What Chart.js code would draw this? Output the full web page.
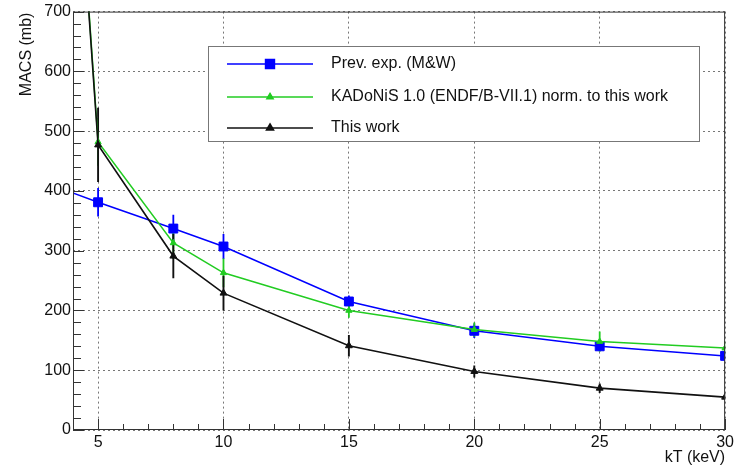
<!DOCTYPE html>
<html>
<head>
<meta charset="utf-8">
<script src="https://cdn.jsdelivr.net/npm/chart.js@4.4.0/dist/chart.umd.min.js"></script>
<style>
  html, body { margin: 0; padding: 0; background: #fff; }
  canvas { display: block; }
</style>
</head>
<body>
<canvas id="chart" width="737" height="465"></canvas>
<script>
// kT (keV); first point sits left of the visible range, only its line shows
const kT = [3, 5, 8, 10, 15, 20, 25, 30];

const prevExp = [412, 381, 337, 307, 215, 166, 140, 124];
const prevExpErr = [25, 24, 23, 21, 10, 12, 8, 6];

const kadonis = [1690, 482, 313, 263, 200, 168, 148, 137];
const kadonisErr = [40, 40, 27, 24, 12, 12, 17, 12];

const thisWork = [1680, 477, 291, 229, 141, 98, 70, 55];
const thisWorkErr = [60, 62, 37, 29, 18, 10, 8, 5];

const xTicks = [5, 10, 15, 20, 25, 30];
const yTicks = [0, 100, 200, 300, 400, 500, 600, 700];
const xMinorStep = 1;
const yMinorStep = 20;

const labelFont = '16px "Liberation Sans", Arial, sans-serif';

const toPoints = (xs, ys) => xs.map((x, i) => ({ x: x, y: ys[i] }));

const series = [
  { label: "Prev. exp. (M&W)", values: prevExp, errors: prevExpErr,
    color: "#0000ff", style: "rect", radius: 6.3, width: 1.5, order: 3 },
  { label: "KADoNiS 1.0 (ENDF/B-VII.1) norm. to this work", values: kadonis, errors: kadonisErr,
    color: "#22cc22", style: "triangle", radius: 3.6, width: 1.5, order: 2 },
  { label: "This work", values: thisWork, errors: thisWorkErr,
    color: "#111111", style: "triangle", radius: 4, width: 1.6, order: 1 },
];

const rootStyle = {
  id: "rootStyle",
  beforeDatasetsDraw(chart) {
    const { ctx, chartArea: a, scales: { x, y } } = chart;
    ctx.save();
    ctx.beginPath();
    ctx.rect(a.left, a.top, a.right - a.left, a.bottom - a.top);
    ctx.clip();
    series.forEach((s) => {
      ctx.strokeStyle = s.color;
      ctx.lineWidth = s.width + 0.3;
      kT.forEach((k, i) => {
        const px = x.getPixelForValue(k);
        ctx.beginPath();
        ctx.moveTo(px, y.getPixelForValue(s.values[i] + s.errors[i]));
        ctx.lineTo(px, y.getPixelForValue(s.values[i] - s.errors[i]));
        ctx.stroke();
      });
    });
    ctx.restore();
  },
  afterDraw(chart) {
    const { ctx, chartArea: a, scales: { x, y } } = chart;
    ctx.save();

    // frame
    ctx.strokeStyle = "#333";
    ctx.lineWidth = 1;
    ctx.strokeRect(a.left + 0.5, a.top + 0.5, a.right - a.left - 1, a.bottom - a.top - 1);

    // inward ticks
    ctx.beginPath();
    for (let v = x.min; v <= x.max + 1e-9; v += xMinorStep) {
      const px = Math.round(x.getPixelForValue(v)) + 0.5;
      const len = xTicks.includes(v) ? 11 : 6;
      ctx.moveTo(px, a.bottom);
      ctx.lineTo(px, a.bottom - len);
    }
    for (let v = y.min; v <= y.max + 1e-9; v += yMinorStep) {
      const py = Math.round(y.getPixelForValue(v)) + 0.5;
      const len = yTicks.includes(v) ? 11 : 8;
      ctx.moveTo(a.left, py);
      ctx.lineTo(a.left + len, py);
    }
    ctx.stroke();

    // axis titles
    ctx.fillStyle = "#111";
    ctx.font = labelFont;
    ctx.textBaseline = "middle";
    ctx.textAlign = "right";
    ctx.fillText("kT (keV)", a.right, 458);
    ctx.save();
    ctx.translate(27, a.top + 1);
    ctx.rotate(-Math.PI / 2);
    ctx.fillText("MACS (mb)", 0, 0);
    ctx.restore();

    // legend
    const box = { x: 208.5, y: 46.5, w: 491, h: 95 };
    ctx.fillStyle = "#fff";
    ctx.fillRect(box.x, box.y, box.w, box.h);
    ctx.strokeStyle = "#777";
    ctx.lineWidth = 1;
    ctx.strokeRect(box.x, box.y, box.w, box.h);
    const rows = [64, 97, 128];
    series.forEach((s, i) => {
      const ry = rows[i];
      ctx.strokeStyle = s.color;
      ctx.lineWidth = s.width;
      ctx.beginPath();
      ctx.moveTo(227, ry);
      ctx.lineTo(313, ry);
      ctx.stroke();
      ctx.fillStyle = s.color;
      Chart.helpers.drawPoint(ctx, { pointStyle: s.style, radius: s.radius, borderWidth: 1, rotation: 0 }, 270, ry);
      ctx.fill();
      ctx.fillStyle = "#111";
      ctx.textAlign = "left";
      ctx.fillText(s.label, 331, ry);
    });

    ctx.restore();
  },
};

new Chart(document.getElementById("chart"), {
  type: "scatter",
  data: {
    datasets: series.map((s) => ({
      label: s.label,
      data: toPoints(kT, s.values),
      showLine: true,
      tension: 0,
      borderColor: s.color,
      backgroundColor: s.color,
      borderWidth: s.width,
      pointStyle: s.style,
      pointRadius: s.radius,
      pointHoverRadius: s.radius,
      pointBorderWidth: 1,
      pointBackgroundColor: s.color,
      pointBorderColor: s.color,
      order: s.order,
    })),
  },
  options: {
    responsive: false,
    animation: false,
    events: [],
    layout: { padding: { top: 11, right: 10, left: 0, bottom: 0 } },
    plugins: { legend: { display: false }, tooltip: { enabled: false } },
    scales: {
      x: {
        type: "linear",
        min: 4,
        max: 30,
        afterBuildTicks: (scale) => { scale.ticks = xTicks.map((v) => ({ value: v })); },
        afterFit: (scale) => { scale.height = 35; },
        grid: { color: "#777", lineWidth: 1, drawTicks: false },
        border: { display: false, dash: [2, 3] },
        ticks: { color: "#111", font: { family: '"Liberation Sans", Arial, sans-serif', size: 16 }, padding: 3, maxRotation: 0 },
      },
      y: {
        type: "linear",
        min: 0,
        max: 700,
        afterBuildTicks: (scale) => { scale.ticks = yTicks.map((v) => ({ value: v })); },
        afterFit: (scale) => { scale.width = 73; },
        grid: { color: "#777", lineWidth: 1, drawTicks: false },
        border: { display: false, dash: [2, 3] },
        ticks: { color: "#111", font: { family: '"Liberation Sans", Arial, sans-serif', size: 16 }, padding: 2 },
      },
    },
  },
  plugins: [rootStyle],
});
</script>
</body>
</html>
